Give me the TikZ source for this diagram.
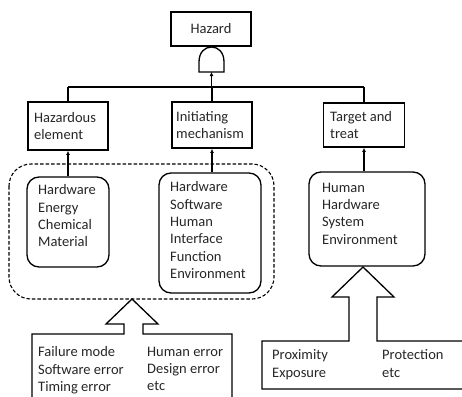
\documentclass[tikz,border=0pt]{standalone}
\usepackage{fontspec}
\setmainfont{Carlito}
\usetikzlibrary{arrows.meta}
\begin{document}
\begin{tikzpicture}[x=1pt,y=-1pt,
  every node/.style={font=\fontsize{14.5}{17.4}\selectfont, text=black!85},
  topbox/.style={draw, line width=1.8pt, inner sep=0pt},
  rbox/.style={draw, rounded corners=12pt, line width=1.3pt, inner sep=0pt},
  txt/.style={align=left, inner sep=0pt, anchor=north west},
  ttxt/.style={align=left, inner sep=0pt, anchor=west},
  conn/.style={line width=1.5pt},
  tipconn/.style={line width=1.5pt, -{Latex[length=4pt,width=4pt]}},
  blockarrow/.style={line width=1.3pt, line join=miter},
  dashbox/.style={line width=1.1pt, dash pattern=on 3.5pt off 2pt, rounded corners=22pt}]
\useasboundingbox (0,0) rectangle (462,396);
\clip (0,0) rectangle (462,396);

% top event
\node[topbox, minimum width=80pt, minimum height=34pt] (hazard) at (211,29) {Hazard};

% AND gate
\coordinate (gatetop) at (211.5,47);
\coordinate (gate) at (211.5,72);
\draw[line width=1.3pt] (199,72) -- (199,62) .. controls (199,52) and (205,47) .. (gatetop)
  .. controls (218,47) and (224,52) .. (224,62) -- (224,72) -- cycle;

% second level boxes
\node[topbox, minimum width=80pt, minimum height=48pt] (he) at (68,126) {};
\node[ttxt] (hetext) at (34,126) {Hazardous\\element};
\node[topbox, minimum width=80pt, minimum height=46pt] (im) at (212,125) {};
\node[ttxt] (imtext) at (176,125) {Initiating\\mechanism};
\node[topbox, minimum width=81pt, minimum height=44pt] (tt) at (364,125) {};
\node[ttxt] (tttext) at (330,125) {Target and\\treat};

% bus
\coordinate (busl) at (he.north |- 0,87);
\coordinate (busm) at (211.5,87);
\coordinate (busr) at (tt.north |- 0,87);
\draw[conn] (busl) -- (busr);
\draw[conn] (busl) -- (he.north);
\draw[conn] (im.north |- busm) -- (im.north);
\draw[conn] (busr) -- (tt.north);
\draw[tipconn] (busm) -- (gate);

% dashed group
\draw[dashbox] (9,164) rectangle (274,299);
\coordinate (grpbot) at (132,299);

% rounded boxes
\node[rbox, minimum width=82pt, minimum height=90pt] (r1) at (68,222) {};
\node[txt] (r1text) at (38,184.5) {Hardware\\Energy\\Chemical\\Material};
\node[rbox, minimum width=102pt, minimum height=120pt] (r2) at (210,233) {};
\node[txt] (r2text) at (170,181.5) {Hardware\\Software\\Human\\Interface\\Function\\Environment};
\node[rbox, minimum width=116pt, minimum height=94pt] (r3) at (367,219) {};
\node[txt] (r3text) at (322,182.5) {Human\\Hardware\\System\\Environment};

\draw[tipconn] (r1.north) -- (he.south);
\draw[tipconn] (im.south |- r2.north) -- (im.south);
\draw[tipconn] (tt.south |- r3.north) -- (tt.south);

% bottom left block arrow and box
\draw[blockarrow] (32,410) -- (32,334) -- (124,334) -- (124,324) -- (106,324) -- (grpbot)
  -- (158,324) -- (143,324) -- (143,334) -- (232,334) -- (232,410);
\node[txt] (bl1) at (38,346.5) {Failure mode\\Software error\\Timing error};
\node[txt] (bl2) at (147,346.5) {Human error\\Design error\\etc};

% bottom right block arrow and box
\coordinate (r3bot) at (363,267);
\draw[blockarrow] (470,389) -- (262,389) -- (262,341) -- (349,341) -- (349,297) -- (332,297) -- (r3bot)
  -- (394,297) -- (377,297) -- (377,341) -- (470,341);
\node[txt] (br1) at (272,349.5) {Proximity\\Exposure};
\node[txt] (br2) at (382,349.5) {Protection\\etc};
\end{tikzpicture}
\end{document}
